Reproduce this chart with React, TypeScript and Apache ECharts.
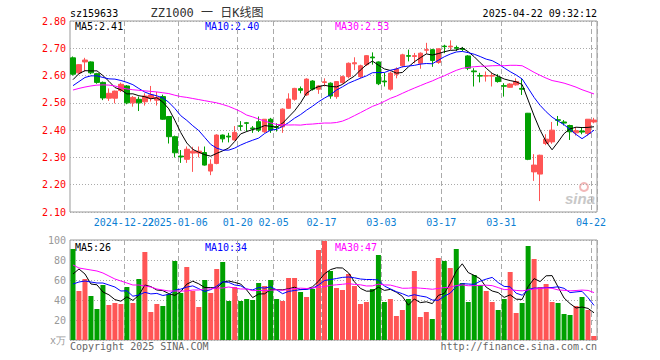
import React, { useEffect, useRef } from 'react';
import * as echarts from 'echarts';

// ---- categories (trading days) ----
const dates = [
  '2024-12-10','2024-12-11','2024-12-12','2024-12-13','2024-12-16','2024-12-17','2024-12-18','2024-12-19','2024-12-20',
  '2024-12-23','2024-12-24','2024-12-25','2024-12-26','2024-12-27','2024-12-30','2024-12-31',
  '2025-01-02','2025-01-03','2025-01-06','2025-01-07','2025-01-08','2025-01-09','2025-01-10','2025-01-13','2025-01-14',
  '2025-01-15','2025-01-16','2025-01-17','2025-01-20','2025-01-21','2025-01-22','2025-01-23','2025-01-24','2025-01-27',
  '2025-02-05','2025-02-06','2025-02-07','2025-02-10','2025-02-11','2025-02-12','2025-02-13','2025-02-14','2025-02-17',
  '2025-02-18','2025-02-19','2025-02-20','2025-02-21','2025-02-24','2025-02-25','2025-02-26','2025-02-27','2025-02-28',
  '2025-03-03','2025-03-04','2025-03-05','2025-03-06','2025-03-07','2025-03-10','2025-03-11','2025-03-12','2025-03-13',
  '2025-03-14','2025-03-17','2025-03-18','2025-03-19','2025-03-20','2025-03-21','2025-03-24','2025-03-25','2025-03-26',
  '2025-03-27','2025-03-28','2025-03-31','2025-04-01','2025-04-02','2025-04-03','2025-04-07','2025-04-08','2025-04-09',
  '2025-04-10','2025-04-11','2025-04-14','2025-04-15','2025-04-16','2025-04-17','2025-04-18','2025-04-21','2025-04-22',
];

// ---- tick labels ----
const tickDates = ['2024-12-23','2025-01-06','2025-01-20','2025-02-05','2025-02-17','2025-03-03','2025-03-17','2025-03-31','2025-04-22'];
const tickLabels = ['2024-12-22','2025-01-06','01-20','02-05','02-17','03-03','03-17','03-31','04-22'];

// ---- OHLC ----
const opens = [
  2.665,2.61,2.65,2.65,2.607,2.575,2.517,2.517,2.545,2.562,2.50,2.513,2.504,2.517,2.51,2.523,2.45,2.376,2.305,2.293,
  2.316,2.316,2.318,2.25,2.278,2.382,2.378,2.364,2.416,2.427,2.408,2.431,2.394,2.44,2.412,2.412,2.48,2.513,2.552,2.529,
  2.58,2.55,2.575,2.572,2.523,2.574,2.596,2.643,2.596,2.64,2.668,2.65,2.58,2.55,2.605,2.636,2.673,2.67,2.645,2.693,
  2.695,2.648,2.708,2.705,2.703,2.699,2.672,2.617,2.60,2.598,2.598,2.594,2.563,2.557,2.566,2.553,2.462,2.247,2.239,2.351,
  2.357,2.438,2.43,2.417,2.39,2.397,2.388,2.43,
];
const closes = [
  2.605,2.64,2.657,2.61,2.575,2.518,2.535,2.543,2.568,2.50,2.52,2.50,2.525,2.529,2.52,2.44,2.376,2.317,2.302,2.33,
  2.323,2.323,2.272,2.275,2.382,2.368,2.375,2.392,2.414,2.425,2.405,2.40,2.44,2.40,2.41,2.477,2.514,2.553,2.546,2.587,
  2.55,2.562,2.577,2.525,2.578,2.596,2.645,2.647,2.636,2.673,2.665,2.57,2.577,2.609,2.624,2.676,2.671,2.673,2.682,2.695,
  2.655,2.698,2.706,2.708,2.70,2.696,2.627,2.614,2.598,2.60,2.60,2.578,2.561,2.569,2.578,2.55,2.293,2.272,2.308,2.367,
  2.40,2.436,2.426,2.394,2.398,2.393,2.44,2.437,
];
const lows = [
  2.60,2.605,2.615,2.605,2.57,2.51,2.507,2.498,2.54,2.495,2.486,2.47,2.49,2.505,2.49,2.438,2.351,2.30,2.28,2.28,
  2.247,2.30,2.27,2.235,2.275,2.355,2.355,2.362,2.398,2.395,2.39,2.393,2.39,2.39,2.395,2.39,2.478,2.508,2.535,2.525,
  2.545,2.533,2.56,2.515,2.515,2.57,2.59,2.62,2.59,2.635,2.64,2.565,2.56,2.545,2.59,2.63,2.652,2.645,2.625,2.68,
  2.632,2.643,2.682,2.694,2.69,2.69,2.62,2.56,2.575,2.578,2.56,2.574,2.523,2.555,2.563,2.529,2.29,2.214,2.14,2.345,
  2.35,2.416,2.417,2.364,2.38,2.385,2.38,2.425,
];
const highs = [
  2.67,2.642,2.665,2.652,2.61,2.578,2.553,2.545,2.574,2.565,2.525,2.523,2.535,2.562,2.54,2.53,2.452,2.38,2.327,2.34,
  2.339,2.34,2.34,2.293,2.385,2.384,2.39,2.415,2.433,2.43,2.415,2.45,2.44,2.445,2.425,2.48,2.535,2.555,2.56,2.59,
  2.583,2.565,2.59,2.575,2.58,2.60,2.648,2.667,2.64,2.675,2.685,2.652,2.61,2.615,2.63,2.68,2.695,2.683,2.685,2.72,
  2.698,2.70,2.713,2.729,2.71,2.705,2.675,2.627,2.61,2.615,2.61,2.605,2.572,2.572,2.59,2.587,2.463,2.312,2.31,2.385,
  2.43,2.452,2.437,2.42,2.41,2.41,2.44,2.445,
];

// ---- volume (x万) ----
const volumes = [
  91,49,61,44,31,55,35,37,36,53,37,61,88,28,36,34,46,79,47,73,
  49,33,60,47,71,78,39,53,39,41,40,57,54,60,41,39,62,62,48,43,
  51,90,99,69,52,50,66,54,36,38,51,85,38,41,24,30,41,69,23,28,
  21,82,79,72,91,57,38,65,55,49,38,30,41,68,27,37,94,81,53,56,
  38,37,26,25,34,43,30,4,
];

// ---- moving averages before enough in-window data exists ----
const priceMa5Head = [2.585, 2.607, 2.618, 2.617];
const priceMa10Head = [2.563, 2.578, 2.593, 2.599, 2.599, 2.593, 2.588, 2.587, 2.582];
const priceMa30Head = [
  2.547, 2.553, 2.558, 2.562, 2.565, 2.566, 2.565, 2.562, 2.555, 2.551, 2.548, 2.546, 2.544, 2.542, 2.54,
  2.537, 2.534, 2.528, 2.523, 2.52, 2.516, 2.512, 2.508, 2.504, 2.50, 2.494, 2.487, 2.478, 2.468,
];
const volMa5Head = [66, 71, 66, 56];
const volMa10Head = [56, 58, 59, 58, 57, 57, 55, 53, 49];
const volMa30Head = [
  75, 72, 71, 70, 69, 67, 64, 61, 59, 57, 55, 55, 54, 53, 51, 50, 49, 49, 49, 49, 50, 50, 51, 51, 52, 52, 53, 52, 51,
];

// ---- legend texts ----
const priceMaTexts = ['MA5:2.41', 'MA10:2.40', 'MA30:2.53'];
const volMaTexts = ['MA5:26', 'MA10:34', 'MA30:47'];

const MONO = '"DejaVu Sans Mono", "Liberation Mono", monospace';
const RED = '#ff5555';
const GREEN = '#00a000';
const BLUE_LABEL = '#0d7fd4';
const MA_COLORS = ['#000000', '#0000ff', '#ff00ff'];

function movingAverage(values: number[], n: number, head: number[], digits: number) {
  return values.map((_, i) => {
    if (i < n - 1) return head[i];
    let s = 0;
    for (let k = i - n + 1; k <= i; k++) s += values[k];
    return +(s / n).toFixed(digits);
  });
}

export default function App() {
  const ref = useRef<HTMLDivElement>(null);
  useEffect(() => {
    if (!ref.current) return;
    const chart = echarts.init(ref.current, null, { renderer: 'svg' });
    const tickIdx = tickDates.map((d) => dates.indexOf(d));
    const tickSet = new Set(tickIdx);
    const firstTick = tickIdx[0];
    const labelOf: Record<string, string> = {};
    tickDates.forEach((d, i) => (labelOf[d] = tickLabels[i]));

    const candleData = dates.map((_, i) => [opens[i], closes[i], lows[i], highs[i]]);
    const volData = volumes.map((v, i) => ({
      value: v,
      itemStyle: { color: closes[i] >= opens[i] ? RED : GREEN },
    }));
    const pMa = [
      movingAverage(closes, 5, priceMa5Head, 4),
      movingAverage(closes, 10, priceMa10Head, 4),
      movingAverage(closes, 30, priceMa30Head, 4),
    ];
    const vMa = [
      movingAverage(volumes, 5, volMa5Head, 2),
      movingAverage(volumes, 10, volMa10Head, 2),
      movingAverage(volumes, 30, volMa30Head, 2),
    ];

    const vSplit = {
      show: true,
      interval: (i: number) => tickSet.has(i),
      lineStyle: { color: '#aaaaaa', type: [5, 3], width: 1 },
    };
    const hSplit = { show: true, lineStyle: { color: '#aaaaaa', type: [1, 2], width: 1 } };

    const labelBase = {
      formatter: (v: string) => labelOf[v] || '',
      color: BLUE_LABEL,
      fontSize: 10,
      fontFamily: MONO,
      margin: 5,
      padding: [0, 6, 0, 0],
      hideOverlap: false,
    };

    const txt = (text: string, x: number, y: number, fill: string, font: string, align = 'left') => ({
      type: 'text',
      x,
      y,
      silent: true,
      style: { text, fill, font, textAlign: align, textVerticalAlign: 'middle' },
    });

    const option: any = {
      animation: false,
      backgroundColor: '#ffffff',
      grid: [
        { left: 70, width: 527, top: 21, height: 191, show: true, borderColor: '#999999', borderWidth: 1 },
        { left: 70, width: 527, top: 240, height: 100, show: true, borderColor: '#999999', borderWidth: 1 },
      ],
      xAxis: [
        {
          type: 'category',
          gridIndex: 0,
          position: 'bottom',
          data: dates,
          boundaryGap: true,
          axisLine: { show: false },
          axisTick: { show: false },
          axisLabel: { ...labelBase, interval: (i: number) => tickSet.has(i) && i !== firstTick },
          splitLine: vSplit,
        },
        {
          type: 'category',
          gridIndex: 1,
          data: dates,
          boundaryGap: true,
          axisLine: { show: false },
          axisTick: { show: false },
          axisLabel: { show: false },
          splitLine: vSplit,
        },
        {
          type: 'category',
          gridIndex: 0,
          position: 'bottom',
          offset: 0,
          data: dates,
          boundaryGap: true,
          axisLine: { show: false },
          axisTick: { show: false },
          axisLabel: { ...labelBase, interval: (i: number) => i === firstTick },
          splitLine: { show: false },
        },
      ],
      yAxis: [
        {
          type: 'value',
          gridIndex: 0,
          min: 2.1,
          max: 2.8,
          interval: 0.1,
          axisLine: { show: false },
          axisTick: { show: false },
          axisLabel: {
            color: '#ff0000',
            fontSize: 10,
            fontFamily: MONO,
            margin: 4,
            formatter: (v: number) => v.toFixed(2),
          },
          splitLine: hSplit,
        },
        {
          type: 'value',
          gridIndex: 1,
          min: 0,
          max: 100,
          interval: 20,
          axisLine: { show: false },
          axisTick: { show: false },
          axisLabel: {
            color: '#999999',
            fontSize: 10,
            fontFamily: MONO,
            margin: 4,
            formatter: (v: number) => (v === 0 ? 'x万' : String(v)),
          },
          splitLine: hSplit,
        },
      ],
      series: [
        {
          type: 'candlestick',
          xAxisIndex: 0,
          yAxisIndex: 0,
          data: candleData,
          barWidth: 5,
          itemStyle: { color: RED, color0: GREEN, borderColor: RED, borderColor0: GREEN, borderWidth: 1 },
          z: 2,
        },
        ...pMa.map((d, k) => ({
          type: 'line',
          xAxisIndex: 0,
          yAxisIndex: 0,
          data: d,
          symbol: 'none',
          lineStyle: { color: MA_COLORS[k], width: 1 },
          z: 3,
        })),
        {
          type: 'bar',
          xAxisIndex: 1,
          yAxisIndex: 1,
          data: volData,
          barWidth: 5,
          z: 2,
        },
        ...vMa.map((d, k) => ({
          type: 'line',
          xAxisIndex: 1,
          yAxisIndex: 1,
          data: d,
          symbol: 'none',
          lineStyle: { color: MA_COLORS[k], width: 1 },
          z: 3,
        })),
      ],
      graphic: [
        txt('sz159633', 70, 13, '#000000', `10px ${MONO}`),
        txt('ZZ1000 一 日K线图', 207, 13, '#333333', `12px ${MONO}, "Noto Sans CJK SC"`, 'center'),
        txt('2025-04-22 09:32:12', 597, 13, '#000000', `10px ${MONO}`, 'right'),
        txt(priceMaTexts[0], 75, 26, MA_COLORS[0], `10px ${MONO}`),
        txt(priceMaTexts[1], 205, 26, MA_COLORS[1], `10px ${MONO}`),
        txt(priceMaTexts[2], 335, 26, MA_COLORS[2], `10px ${MONO}`),
        txt(volMaTexts[0], 75, 247, MA_COLORS[0], `10px ${MONO}`),
        txt(volMaTexts[1], 205, 247, MA_COLORS[1], `10px ${MONO}`),
        txt(volMaTexts[2], 335, 247, MA_COLORS[2], `10px ${MONO}`),
        txt('Copyright 2025 SINA.COM', 70, 346, '#666666', `10px ${MONO}`),
        txt('http://finance.sina.com.cn', 597, 346, '#666666', `10px ${MONO}`, 'right'),
        {
          type: 'circle',
          silent: true,
          shape: { cx: 584, cy: 187, r: 4 },
          style: { fill: 'none', stroke: '#f2b8b8', lineWidth: 2 },
        },
        txt('sina', 580, 198, '#c8c8c8', 'italic bold 15px "Liberation Sans", Arial', 'center'),
      ],
    };
    chart.setOption(option);
    return () => chart.dispose();
  }, []);
  return (
    <div
      ref={ref}
      style={{ position: 'fixed', left: 0, top: 0, width: 660, height: 360, background: '#fff' }}
    />
  );
}
